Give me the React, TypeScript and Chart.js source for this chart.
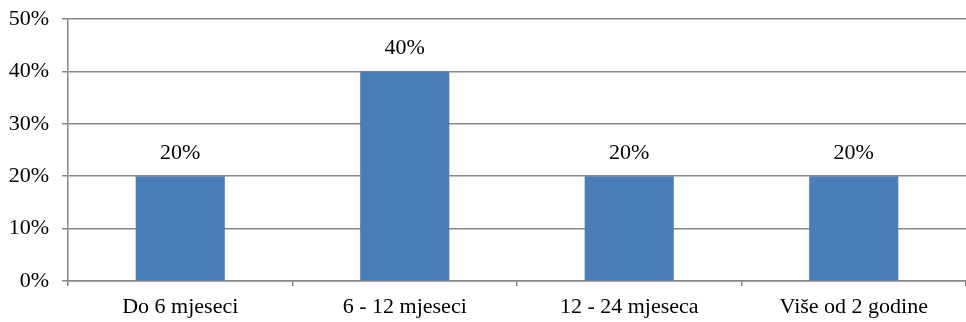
import React, { useEffect, useRef } from "react";
import { Chart, registerables } from "chart.js";

Chart.register(...registerables);

const categories = ["Do 6 mjeseci", "6 - 12 mjeseci", "12 - 24 mjeseca", "Više od 2 godine"];
const values = [20, 40, 20, 20];
const yTicks = [0, 10, 20, 30, 40, 50];

const FONT = "'Liberation Serif', 'Times New Roman', serif";
const FS = 22;

const labelPlugin = {
  id: "barLabels",
  afterDatasetsDraw(chart: any) {
    const ctx = chart.ctx;
    const meta = chart.getDatasetMeta(0);
    ctx.save();
    ctx.font = `${FS}px ${FONT}`;
    ctx.fillStyle = "#000";
    ctx.textAlign = "center";
    ctx.textBaseline = "middle";
    meta.data.forEach((bar: any, i: number) => {
      ctx.fillText(values[i] + "%", bar.x, bar.y - 23);
    });
    ctx.restore();
  },
};

export default function App() {
  const ref = useRef<HTMLCanvasElement>(null);
  useEffect(() => {
    if (!ref.current) return;
    const chart = new Chart(ref.current, {
      type: "bar",
      data: {
        labels: categories,
        datasets: [
          {
            data: values,
            backgroundColor: "#4a7ebb",
            categoryPercentage: 1,
            barPercentage: 0.397,
          },
        ],
      },
      options: {
        animation: false,
        responsive: true,
        maintainAspectRatio: false,
        devicePixelRatio: 1,
        layout: { padding: { top: 19, right: 0, left: 0, bottom: 0 } },
        plugins: { legend: { display: false }, tooltip: { enabled: false } },
        scales: {
          x: {
            offset: true,
            grid: {
              offset: true,
              drawOnChartArea: false,
              drawTicks: true,
              tickLength: 5,
              color: "#868686",
              lineWidth: 1.5,
            },
            border: { display: true, color: "#868686", width: 1.5 },
            ticks: {
              color: "#000",
              font: { family: FONT, size: FS },
              padding: 8,
              maxRotation: 0,
            },
            afterFit(scale: any) {
              scale.height = 41;
              scale.paddingLeft = 0;
              scale.paddingRight = 0;
            },
          },
          y: {
            min: 0,
            max: 50,
            afterBuildTicks(scale: any) {
              scale.ticks = yTicks.map((v) => ({ value: v }));
            },
            grid: {
              color: "#868686",
              lineWidth: 1.5,
              tickLength: 6,
              drawTicks: true,
            },
            border: { display: true, color: "#868686", width: 1.5 },
            ticks: {
              color: "#000",
              font: { family: FONT, size: FS },
              padding: 13,
              callback: (v: any) => v + "%",
            },
            afterFit(scale: any) {
              scale.width = 68;
              scale.paddingTop = 0;
              scale.paddingBottom = 0;
            },
          },
        },
      },
      plugins: [labelPlugin],
    });
    return () => chart.destroy();
  }, []);
  return (
    <div style={{ position: "absolute", left: 0, top: 0, width: 966, height: 322, background: "#fff" }}>
      <canvas ref={ref} />
    </div>
  );
}
